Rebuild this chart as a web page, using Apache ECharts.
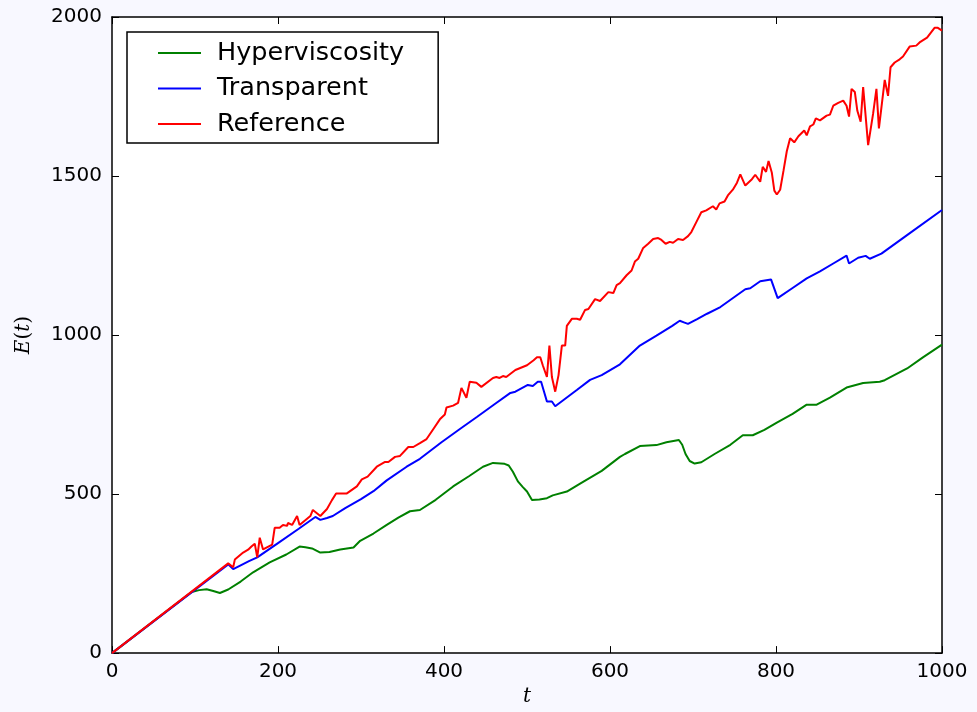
<!DOCTYPE html>
<html>
<head>
<meta charset="utf-8">
<script src="https://cdn.jsdelivr.net/npm/echarts@6/dist/echarts.min.js"></script>
<style>
html,body{margin:0;padding:0;background:#f8f8ff;}
#c{width:977px;height:712px;}
</style>
</head>
<body>
<div id="c"></div>
<script>
// ---- data ----
const seriesNames = ['Hyperviscosity', 'Transparent', 'Reference'];
const xTicks = [0, 200, 400, 600, 800, 1000];
const yTicks = [0, 500, 1000, 1500, 2000];

const hypT = [0, 96, 105, 114, 122, 130, 140, 155, 170, 190, 210, 226, 233, 241, 251, 262, 275, 291, 299, 315, 331, 345, 359, 371, 390, 411, 430, 447, 459, 473, 478, 483, 489, 495, 500, 506, 515, 524, 531, 548, 564, 590, 612, 618, 636, 656, 668, 683, 687, 691, 696, 702, 710, 726, 745, 760, 772, 786, 801, 820, 837, 849, 865, 885, 905, 925, 931, 958, 977, 1000];
const hypE = [0, 192, 198, 201, 195, 189, 200, 225, 254, 285, 310, 335, 333, 329, 316, 318, 326, 332, 353, 376, 403, 426, 446, 450, 482, 524, 556, 586, 598, 595, 590, 570, 540, 522, 508, 481, 483, 487, 496, 508, 533, 573, 617, 626, 651, 654, 663, 670, 655, 626, 604, 596, 600, 626, 655, 685, 685, 702, 725, 752, 781, 781, 803, 835, 849, 853, 858, 895, 930, 970];

const traT = [0, 140, 146, 155, 165, 175, 200, 225, 245, 251, 259, 266, 281, 300, 315, 331, 355, 371, 397, 420, 440, 460, 480, 486, 501, 507, 513, 517, 524, 530, 534, 560, 576, 590, 612, 636, 656, 675, 684, 689, 694, 705, 717, 733, 763, 769, 781, 794, 802, 820, 837, 853, 869, 885, 888, 899, 908, 913, 927, 960, 1000];
const traE = [0, 279, 264, 276, 289, 301, 346, 391, 428, 419, 425, 431, 456, 484, 509, 543, 586, 611, 663, 706, 743, 781, 818, 822, 843, 840, 853, 853, 791, 791, 776, 827, 859, 874, 908, 967, 998, 1029, 1045, 1040, 1035, 1050, 1067, 1088, 1144, 1147, 1169, 1175, 1116, 1148, 1178, 1200, 1225, 1250, 1225, 1243, 1249, 1240, 1256, 1318, 1393];

const refT = [0, 140, 146, 148, 158, 164, 168, 172, 175, 178, 182, 193, 196, 202, 206, 211, 212, 217, 223, 226, 239, 242, 251, 259, 265, 270, 283, 295, 301, 308, 319, 329, 333, 341, 343, 347, 357, 363, 371, 379, 387, 395, 401, 403, 411, 413, 417, 421, 423, 427, 431, 439, 445, 459, 463, 467, 471, 475, 486, 500, 508, 512, 516, 519, 524, 527, 530, 534, 538, 542, 546, 548, 554, 560, 564, 570, 574, 582, 588, 598, 604, 608, 612, 620, 626, 630, 634, 640, 646, 652, 658, 662, 664, 667, 672, 676, 682, 688, 694, 698, 700, 704, 710, 716, 724, 728, 732, 738, 742, 748, 753, 757, 763, 771, 775, 781, 784, 788, 791, 795, 798, 801, 805, 809, 813, 817, 822, 827, 834, 837, 841, 845, 848, 853, 861, 865, 869, 875, 881, 885, 888, 891, 895, 898, 902, 905, 911, 917, 921, 924, 931, 935, 938, 943, 949, 953, 961, 969, 973, 982, 991, 995, 1000];
const refE = [0, 282, 270, 294, 316, 325, 335, 344, 301, 363, 326, 341, 394, 394, 403, 400, 409, 403, 431, 403, 431, 450, 431, 453, 481, 502, 502, 524, 546, 555, 586, 601, 601, 617, 623, 620, 648, 648, 660, 673, 704, 735, 750, 772, 778, 775, 787, 834, 834, 803, 853, 850, 837, 865, 868, 865, 871, 868, 890, 905, 921, 930, 930, 905, 868, 967, 868, 822, 874, 967, 967, 1029, 1051, 1051, 1048, 1079, 1082, 1113, 1107, 1135, 1132, 1157, 1163, 1188, 1203, 1231, 1240, 1274, 1287, 1302, 1305, 1299, 1305, 1287, 1293, 1290, 1302, 1299, 1311, 1324, 1321, 1355, 1386, 1392, 1405, 1395, 1414, 1420, 1439, 1457, 1479, 1505, 1470, 1490, 1504, 1482, 1529, 1513, 1547, 1510, 1454, 1442, 1457, 1516, 1578, 1619, 1606, 1625, 1643, 1628, 1656, 1662, 1681, 1675, 1690, 1693, 1721, 1730, 1737, 1721, 1687, 1774, 1764, 1705, 1671, 1780, 1597, 1696, 1774, 1650, 1802, 1752, 1842, 1857, 1867, 1876, 1907, 1910, 1920, 1935, 1966, 1966, 1957];

const colors = ['#008000', '#0000ff', '#ff0000'];

function zip(a, b) { return a.map((v, i) => [v, b[i]]); }

const chart = echarts.init(document.getElementById('c'), null, {renderer: 'canvas'});
const FONT = 'DejaVu Sans';
const axisLine = {show: true, onZero: false, lineStyle: {color: '#000', width: 1.5}};
const tick = {show: true, inside: true, length: 7, lineStyle: {color: '#000', width: 1}};
const plain = v => String(v);
const option = {
  backgroundColor: '#f8f8ff',
  animation: false,
  grid: {left: 112, right: 35, top: 17, bottom: 50, show: true, backgroundColor: '#ffffff', borderWidth: 0},
  legend: {
    orient: 'vertical', left: 127, top: 32,
    padding: [8, 34, 6, 31],
    icon: 'rect',
    itemWidth: 43, itemHeight: 2, itemGap: 9.5,
    backgroundColor: '#ffffff', borderColor: '#000', borderWidth: 1.5, borderRadius: 0,
    textStyle: {fontSize: 25.5, fontFamily: FONT, color: '#000', lineHeight: 25, padding: [0, 0, 0, 11]},
    data: seriesNames
  },
  xAxis: [{
    type: 'value', min: xTicks[0], max: xTicks[xTicks.length - 1], interval: 200,
    axisLine: axisLine, axisTick: tick, splitLine: {show: false},
    axisLabel: {fontSize: 20, fontFamily: FONT, color: '#000', margin: 9, formatter: plain},
    name: '{i|t}', nameLocation: 'middle', nameGap: 31,
    nameTextStyle: {color: '#000', fontSize: 20, fontFamily: 'DejaVu Serif',
      rich: {i: {fontStyle: 'italic', fontFamily: 'DejaVu Serif', fontSize: 20, color: '#000'}}}
  }, {
    type: 'value', position: 'top', min: 0, max: 1000, interval: 200,
    axisLine: axisLine, axisTick: tick, splitLine: {show: false}, axisLabel: {show: false}
  }],
  yAxis: [{
    type: 'value', min: yTicks[0], max: yTicks[yTicks.length - 1], interval: 500,
    axisLine: axisLine, axisTick: tick, splitLine: {show: false},
    axisLabel: {fontSize: 20, fontFamily: FONT, color: '#000', margin: 10, formatter: plain},
    name: '{i|E}({i|t})', nameLocation: 'middle', nameGap: 78, nameRotate: 90,
    nameTextStyle: {color: '#000', fontSize: 20, fontFamily: 'DejaVu Serif',
      rich: {i: {fontStyle: 'italic', fontFamily: 'DejaVu Serif', fontSize: 20, color: '#000'}}}
  }, {
    type: 'value', position: 'right', min: 0, max: 2000, interval: 500,
    axisLine: axisLine, axisTick: tick, splitLine: {show: false}, axisLabel: {show: false}
  }],
  series: [
    {name: seriesNames[0], type: 'line', data: zip(hypT, hypE), symbol: 'none', color: colors[0], lineStyle: {width: 2, color: colors[0]}, z: 3},
    {name: seriesNames[1], type: 'line', data: zip(traT, traE), symbol: 'none', color: colors[1], lineStyle: {width: 2, color: colors[1]}, z: 4},
    {name: seriesNames[2], type: 'line', data: zip(refT, refE), symbol: 'none', color: colors[2], lineStyle: {width: 2, color: colors[2]}, z: 5}
  ]
};
chart.setOption(option);
</script>
</body>
</html>
